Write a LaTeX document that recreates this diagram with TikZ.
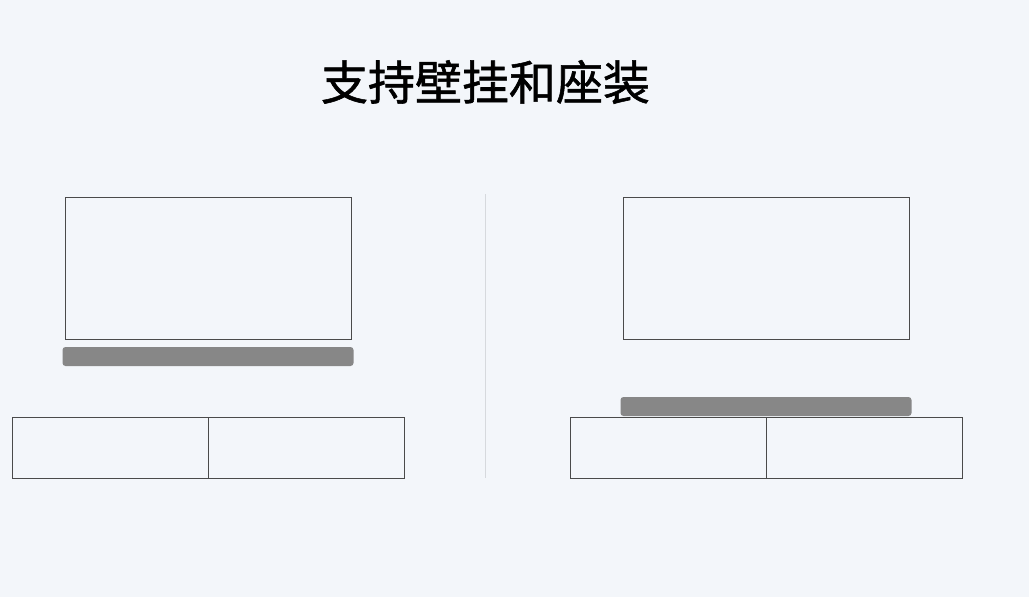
\documentclass[tikz,border=0pt]{standalone}
\usepackage{fontspec}
\usepackage{tikz}
\usetikzlibrary{positioning}
\newfontfamily\cjk[AutoFakeBold=1.2]{Noto Sans CJK SC}
\definecolor{bgcol}{HTML}{F3F6FA}
\definecolor{edgecol}{HTML}{4A4A4A}
\definecolor{barcol}{HTML}{878787}
\definecolor{sepcol}{HTML}{D6D9DD}
\newcommand\tvW{286pt}
\newcommand\tvH{142pt}
\tikzstyle{tv}=[draw=edgecol,line width=0.9pt,
  minimum width=\tvW,minimum height=\tvH,inner sep=0pt,outer sep=0pt]
\tikzstyle{soundbar}=[fill=barcol,rounded corners=3pt,
  minimum width=291pt,minimum height=19pt,inner sep=0pt,outer sep=0pt]
\tikzstyle{drawer}=[draw=edgecol,line width=0.9pt,
  minimum width=196pt,minimum height=61pt,inner sep=0pt,outer sep=0pt]

\begin{document}
\begin{tikzpicture}[x=1pt,y=-1pt]
\fill[bgcol] (0,0) rectangle (1029,597);
\useasboundingbox (0,0) rectangle (1029,597);
\node[font=\cjk\bfseries\fontsize{47}{52}\selectfont] (title) at (485.5,82) {支持壁挂和座装};
% wall mounted
\node[tv] (tvL) at (208,268) {};
\node[soundbar,below=8pt of tvL] (barL) {};
\node[drawer] (cabL1) at (110,447.5) {};
\node[drawer,right=0pt of cabL1] (cabL2) {};
% seated
\node[tv] (tvR) at (766,268) {};
\node[drawer] (cabR1) at (668,447.5) {};
\node[drawer,right=0pt of cabR1] (cabR2) {};
\node[soundbar,above=1pt of cabR1.north east] (barR) {};
% separator
\coordinate (sepT) at (485,194);
\coordinate (sepB) at (485,478);
\draw[sepcol,line width=0.8pt] (sepT) -- (sepB);
\end{tikzpicture}
\end{document}
